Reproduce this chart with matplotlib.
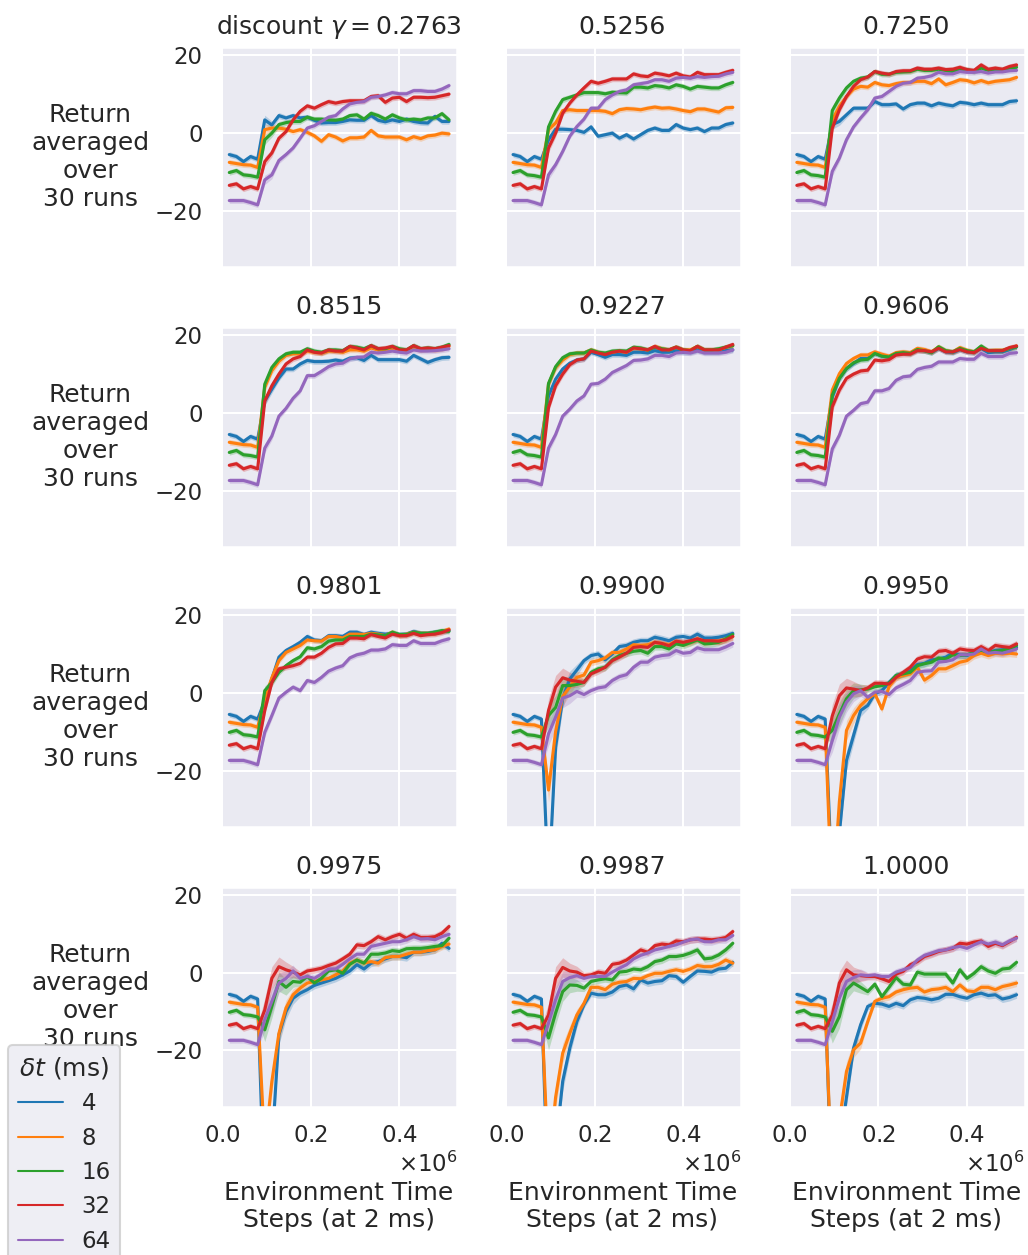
import numpy as np
import matplotlib
matplotlib.use("Agg")
import matplotlib.pyplot as plt
import seaborn as sns

# ---------------- data ----------------
steps = np.arange(1, 33) * 16000          # environment time steps
dts = ["4", "8", "16", "32", "64"]
gammas = ["0.2763", "0.5256", "0.7250", "0.8515", "0.9227", "0.9606",
          "0.9801", "0.9900", "0.9950", "0.9975", "0.9987", "1.0000"]
colors = ["#1f77b4", "#ff7f0e", "#2ca02c", "#d62728", "#9467bd"]

# first five evaluation points (identical initial policy for all gammas)
pre_4 = [-5.6, -6.1, -7.4, -6.1, -6.8]
pre_8 = [-7.6, -7.9, -8.2, -8.3, -8.9]
pre_16 = [-10.2, -9.7, -10.8, -11.0, -11.4]
pre_32 = [-13.5, -13.1, -14.4, -13.8, -14.4]
pre_64 = [-17.4, -17.4, -17.4, -17.9, -18.5]

# remaining 27 points, per gamma, order dt = 4, 8, 16, 32, 64
g_2763 = [
    [3.3, 2.0, 4.4, 3.8, 4.4, 3.8, 4.0, 3.2, 2.5, 2.6, 2.6, 2.9, 3.3, 3.2, 3.2, 4.4, 3.2, 2.8, 3.3, 2.9, 3.5, 2.9, 2.6, 2.5, 4.2, 2.9, 2.9],
    [0.8, 1.2, 1.2, 0.9, 0.3, 0.8, 0.1, -0.8, -2.2, -0.5, -1.1, -2.1, -1.3, -1.3, -1.1, 0.6, -0.8, -1.1, -1.1, -1.1, -1.8, -1.0, -1.5, -0.8, -0.6, -0.1, -0.3],
    [-1.8, -0.1, 2.1, 2.6, 2.9, 2.9, 4.0, 3.5, 3.5, 3.3, 3.2, 3.5, 4.4, 4.6, 3.5, 5.0, 4.4, 3.5, 4.6, 3.8, 3.3, 3.5, 3.3, 3.8, 3.8, 4.9, 3.3],
    [-7.4, -5.2, -1.4, 0.3, 3.3, 5.5, 6.9, 6.3, 7.2, 8.0, 7.6, 8.0, 8.2, 8.2, 8.2, 9.3, 9.5, 7.8, 8.9, 9.1, 8.0, 9.1, 9.1, 9.0, 9.1, 9.5, 9.9],
    [-12.1, -10.8, -7.1, -5.6, -3.9, -1.4, 1.2, 1.8, 2.9, 4.0, 4.4, 6.1, 7.4, 7.8, 8.0, 9.1, 9.3, 9.7, 10.3, 10.0, 10.0, 10.8, 10.8, 10.6, 10.6, 11.2, 12.1],
]
g_5256 = [
    [-1.8, 0.9, 0.9, 0.8, 0.6, 0.1, 1.5, -0.9, -0.5, -0.1, -1.4, -0.5, -1.6, -0.5, 0.6, 1.2, 0.6, 0.6, 2.1, 1.2, 0.8, 1.2, 0.3, 1.2, 1.2, 2.1, 2.5],
    [0.8, 2.5, 5.7, 5.9, 5.7, 5.7, 5.7, 5.7, 5.5, 4.9, 5.9, 6.2, 6.1, 5.9, 6.3, 6.6, 6.3, 6.4, 6.1, 5.7, 5.4, 6.1, 6.1, 5.7, 5.3, 6.4, 6.5],
    [1.5, 5.5, 8.5, 9.1, 9.7, 10.3, 10.3, 10.3, 10.0, 10.4, 10.3, 10.2, 11.7, 11.7, 11.5, 12.1, 11.9, 11.5, 12.3, 11.9, 11.2, 11.9, 11.7, 11.5, 11.5, 12.3, 12.9],
    [-3.9, -0.1, 5.0, 7.6, 9.7, 11.5, 13.2, 12.7, 13.2, 13.8, 13.8, 13.8, 15.1, 14.6, 14.4, 15.3, 15.0, 14.6, 15.3, 14.6, 14.3, 15.5, 14.9, 14.9, 14.9, 15.5, 16.0],
    [-10.8, -8.2, -4.8, -0.9, 1.6, 3.5, 6.3, 6.3, 8.5, 9.7, 10.6, 11.0, 12.3, 12.6, 12.9, 13.6, 13.6, 13.2, 14.0, 14.2, 14.0, 14.4, 14.2, 14.4, 14.5, 15.1, 15.5],
]
g_7250 = [
    [2.1, 2.9, 4.6, 6.3, 6.3, 6.3, 8.0, 7.2, 7.2, 7.4, 6.1, 7.2, 7.6, 7.6, 6.9, 7.6, 7.2, 6.9, 7.8, 7.6, 7.2, 7.6, 7.2, 7.2, 7.2, 8.0, 8.2],
    [3.3, 6.8, 9.3, 11.2, 11.9, 11.7, 12.9, 12.3, 12.1, 12.6, 12.9, 12.9, 13.2, 13.2, 12.6, 13.8, 12.3, 12.9, 13.6, 13.4, 12.8, 13.4, 12.8, 13.2, 13.4, 13.6, 14.2],
    [5.7, 8.9, 11.5, 13.2, 14.0, 14.3, 15.7, 15.0, 15.0, 15.5, 15.6, 15.7, 16.3, 16.0, 16.0, 16.3, 16.0, 15.7, 16.3, 16.2, 15.7, 16.6, 16.0, 16.2, 16.2, 16.6, 16.8],
    [1.2, 5.9, 9.3, 11.9, 13.6, 14.3, 15.7, 15.3, 15.0, 15.7, 15.9, 15.9, 16.6, 16.3, 16.3, 16.6, 16.2, 16.3, 16.8, 16.2, 16.0, 17.4, 16.3, 16.6, 16.3, 17.0, 17.4],
    [-9.9, -6.5, -1.8, 1.5, 3.8, 5.9, 8.9, 9.3, 10.6, 11.9, 12.7, 12.9, 14.0, 14.2, 14.6, 15.5, 15.1, 15.1, 15.7, 15.5, 15.5, 15.7, 15.3, 15.6, 15.6, 15.9, 16.0],
]
g_8515 = [
    [3.0, 6.0, 8.9, 11.2, 11.2, 12.5, 13.4, 13.1, 13.1, 13.2, 13.5, 13.2, 14.0, 14.1, 13.4, 14.7, 13.6, 13.6, 13.6, 13.6, 13.2, 14.7, 13.8, 12.9, 13.6, 14.1, 14.2],
    [6.5, 10.8, 13.2, 14.7, 15.1, 15.1, 15.8, 15.5, 15.3, 15.8, 15.8, 15.5, 16.1, 16.1, 15.8, 16.6, 16.1, 16.1, 16.4, 16.1, 15.8, 16.6, 16.1, 16.4, 16.1, 16.4, 17.0],
    [7.3, 11.6, 13.8, 15.1, 15.5, 15.5, 16.4, 15.8, 15.5, 16.1, 16.1, 15.9, 17.0, 16.8, 16.4, 17.2, 16.4, 16.4, 17.0, 16.4, 16.1, 17.2, 16.4, 16.6, 16.4, 16.8, 17.5],
    [3.0, 6.9, 9.9, 12.5, 13.8, 14.4, 16.1, 15.5, 15.3, 16.1, 15.8, 15.8, 17.0, 16.6, 16.1, 17.2, 16.4, 16.6, 17.0, 16.1, 16.1, 17.2, 16.4, 16.6, 16.4, 16.8, 17.2],
    [-9.1, -6.0, -0.9, 1.1, 3.7, 5.6, 9.5, 9.5, 10.6, 11.8, 12.5, 12.7, 13.8, 14.2, 14.3, 15.5, 15.3, 15.5, 15.8, 15.5, 15.3, 16.1, 15.8, 15.8, 15.9, 16.1, 16.4],
]
g_9227 = [
    [4.3, 8.6, 11.2, 12.7, 13.5, 13.8, 15.5, 14.9, 14.2, 14.9, 14.9, 14.7, 15.5, 15.5, 15.3, 15.9, 15.5, 15.5, 15.9, 15.5, 15.5, 16.1, 15.5, 15.5, 15.5, 15.9, 16.1],
    [7.3, 11.6, 13.5, 14.9, 15.3, 15.3, 16.1, 15.5, 15.1, 15.5, 15.8, 15.5, 16.6, 16.4, 16.1, 17.0, 16.4, 16.1, 16.8, 16.1, 16.1, 17.0, 16.1, 16.1, 16.1, 16.8, 17.2],
    [7.5, 11.8, 14.1, 15.1, 15.3, 15.3, 16.1, 15.5, 15.3, 15.8, 15.9, 15.8, 16.8, 16.6, 16.1, 16.8, 16.4, 16.1, 16.8, 16.1, 15.9, 17.0, 16.1, 16.1, 16.4, 16.8, 17.2],
    [1.3, 6.9, 9.9, 12.3, 13.5, 13.8, 15.8, 15.3, 14.9, 15.5, 15.8, 15.5, 16.6, 16.4, 16.1, 17.0, 16.1, 16.1, 16.8, 16.1, 15.9, 17.0, 16.1, 16.1, 16.1, 16.8, 17.5],
    [-9.1, -5.6, -0.9, 0.9, 3.0, 4.3, 7.3, 7.5, 8.6, 10.3, 11.2, 12.1, 13.4, 13.5, 13.8, 14.7, 14.7, 14.4, 15.3, 15.5, 15.3, 15.8, 15.3, 15.3, 15.3, 15.5, 16.1],
]
g_9606 = [
    [4.0, 8.8, 11.3, 12.6, 13.9, 13.9, 15.2, 14.5, 14.3, 15.2, 15.4, 15.2, 16.1, 15.9, 15.4, 16.5, 15.6, 15.4, 16.2, 15.6, 15.4, 16.5, 15.4, 15.6, 15.6, 16.2, 16.9],
    [5.8, 10.0, 12.6, 13.9, 14.8, 14.8, 15.6, 15.0, 14.5, 15.4, 15.6, 15.4, 16.5, 16.2, 15.6, 16.9, 15.9, 15.6, 16.7, 16.0, 15.6, 16.9, 15.9, 16.0, 16.0, 16.5, 17.1],
    [4.5, 8.8, 11.3, 12.8, 13.5, 13.7, 15.2, 14.5, 14.3, 15.2, 15.4, 15.2, 16.2, 15.9, 15.4, 16.9, 15.9, 15.6, 16.5, 15.9, 15.6, 17.1, 15.9, 15.9, 15.9, 16.5, 16.9],
    [1.5, 5.8, 8.8, 9.9, 10.7, 10.9, 13.5, 13.3, 13.6, 14.8, 15.0, 15.0, 15.9, 15.9, 15.6, 16.5, 15.6, 15.6, 16.2, 15.6, 15.4, 16.5, 15.9, 15.9, 15.9, 16.7, 17.1],
    [-9.3, -5.8, -0.9, 0.6, 2.3, 2.7, 5.6, 5.6, 6.2, 8.3, 9.2, 9.4, 11.1, 11.6, 11.9, 13.0, 13.0, 13.0, 13.9, 13.7, 13.7, 15.2, 14.4, 14.4, 14.4, 15.2, 15.4],
]
g_9801 = [
    [-2.1, 3.5, 9.1, 10.8, 11.8, 12.9, 14.4, 13.5, 13.3, 14.6, 14.6, 14.4, 15.5, 15.5, 14.9, 15.5, 15.2, 15.0, 15.2, 14.9, 15.0, 15.7, 15.2, 15.2, 15.5, 15.7, 15.9],
    [-1.6, 3.8, 8.2, 10.3, 11.2, 12.1, 13.5, 13.3, 13.2, 14.4, 14.4, 14.0, 15.0, 15.0, 14.9, 15.2, 15.0, 14.6, 15.5, 14.6, 15.0, 15.5, 15.2, 15.2, 15.2, 15.7, 16.3],
    [0.5, 2.6, 5.2, 6.9, 8.2, 9.2, 11.5, 11.2, 11.8, 13.2, 13.5, 13.5, 14.4, 14.4, 14.4, 15.0, 14.8, 14.6, 15.5, 14.9, 14.9, 15.5, 15.2, 15.2, 15.5, 15.9, 15.7],
    [-4.6, 2.6, 6.1, 6.5, 6.9, 7.5, 9.1, 9.1, 10.1, 11.6, 12.5, 12.6, 14.0, 14.0, 13.8, 14.9, 14.4, 14.0, 15.0, 14.6, 14.6, 15.2, 14.6, 14.9, 15.0, 15.4, 16.1],
    [-10.2, -5.9, -1.4, 0.1, 1.4, 0.5, 3.1, 2.6, 3.9, 5.5, 6.3, 6.9, 8.9, 9.7, 10.1, 10.9, 10.9, 11.2, 12.3, 12.1, 12.1, 13.3, 12.6, 12.6, 12.6, 13.3, 13.8],
]
g_9900 = [
    [-50.0, -14.0, -1.5, 3.5, 5.8, 8.2, 9.5, 9.9, 8.4, 9.9, 11.8, 12.1, 12.9, 13.3, 13.3, 14.2, 13.8, 13.3, 14.2, 14.4, 14.0, 15.0, 14.0, 14.0, 14.2, 14.6, 15.2],
    [-25.0, -10.0, -1.0, 1.5, 3.9, 4.5, 7.8, 8.2, 8.9, 10.3, 10.3, 11.2, 12.3, 12.1, 12.3, 12.9, 12.6, 12.3, 13.2, 12.6, 12.9, 13.8, 12.9, 13.2, 13.2, 13.8, 14.4],
    [-5.9, -3.8, 1.8, 1.8, 2.1, 2.6, 5.2, 6.1, 6.5, 8.4, 9.5, 10.1, 10.6, 10.8, 10.1, 11.8, 11.8, 11.2, 12.5, 12.1, 12.8, 13.5, 12.5, 12.6, 12.9, 13.8, 14.9],
    [-4.6, 1.4, 3.8, 3.2, 2.9, 2.6, 4.8, 5.6, 6.5, 8.2, 9.1, 10.1, 11.6, 11.8, 11.6, 12.9, 12.6, 12.0, 13.2, 12.9, 13.3, 13.8, 13.3, 13.3, 13.2, 13.5, 14.4],
    [-10.6, -6.3, -1.4, -0.8, 0.3, -0.5, 0.5, 1.2, 1.5, 3.1, 4.1, 4.6, 6.5, 7.8, 7.8, 9.1, 9.5, 9.7, 10.8, 10.1, 10.3, 11.5, 11.0, 11.0, 11.0, 11.7, 12.6],
]
g_9950 = [
    [-50.0, -36.0, -17.4, -11.0, -4.6, -3.3, -0.3, 0.5, 2.6, 4.4, 4.8, 5.6, 7.2, 7.5, 8.4, 8.6, 9.1, 10.1, 9.7, 9.5, 10.3, 11.2, 10.3, 10.8, 11.0, 11.2, 11.6],
    [-55.0, -28.0, -9.7, -5.9, -3.3, -1.6, -0.3, -4.2, 1.5, 3.9, 4.4, 4.8, 6.5, 3.2, 4.4, 6.1, 6.1, 6.9, 7.8, 8.2, 9.5, 10.1, 9.5, 10.1, 9.9, 10.1, 9.9],
    [-9.7, -5.5, -1.6, 0.5, 0.7, 0.9, 1.5, 1.8, 2.4, 4.4, 4.8, 5.2, 6.9, 7.4, 7.8, 8.9, 8.6, 9.7, 9.5, 9.7, 10.3, 10.9, 10.3, 10.6, 10.8, 11.2, 12.1],
    [-6.0, -0.8, 1.2, 0.9, 0.5, 1.2, 2.4, 2.4, 2.2, 3.9, 5.2, 6.5, 8.6, 9.2, 9.1, 10.6, 10.8, 10.1, 11.2, 10.9, 10.8, 11.8, 10.8, 12.1, 11.8, 11.6, 12.5],
    [-12.3, -6.3, -2.5, -0.3, 0.5, -1.2, 0.1, 0.3, -0.5, 1.2, 2.1, 3.1, 5.2, 5.5, 5.6, 7.8, 8.0, 8.4, 9.7, 9.7, 9.9, 11.2, 10.1, 10.3, 10.1, 10.6, 11.2],
]
g_9975 = [
    [-60.0, -45.0, -16.0, -10.0, -6.6, -5.3, -4.4, -3.3, -2.7, -2.1, -1.5, -0.6, 0.4, 2.0, 0.9, 2.4, 2.8, 3.5, 4.1, 4.1, 3.8, 5.2, 5.2, 5.4, 5.8, 7.5, 6.2],
    [-45.0, -28.0, -15.6, -9.1, -5.7, -4.0, -2.7, -2.3, -1.9, -1.5, -0.6, 0.4, 2.4, 3.2, 2.4, 2.8, 2.4, 3.8, 4.1, 4.1, 4.7, 5.2, 5.2, 5.6, 5.8, 6.7, 7.3],
    [-14.7, -8.7, -2.3, -3.8, -2.3, -2.5, -1.0, -2.7, -1.5, 0.4, 0.7, -0.2, 2.1, 3.2, 2.4, 4.7, 4.7, 5.0, 5.6, 5.4, 6.1, 6.2, 6.2, 6.4, 6.7, 6.9, 8.8],
    [-9.6, -1.5, 1.5, 0.7, 0.1, -0.6, 0.4, 0.7, 1.1, 1.8, 2.4, 3.5, 4.7, 7.1, 6.9, 7.9, 9.2, 8.4, 9.2, 9.8, 8.8, 9.8, 9.0, 9.0, 9.2, 10.1, 11.8],
    [-12.1, -7.4, -2.7, -1.5, 0.4, -1.5, -1.0, -1.5, -0.4, 0.9, 0.9, 2.1, 3.5, 4.7, 4.7, 6.7, 7.1, 7.5, 7.9, 7.9, 8.4, 9.2, 8.6, 8.7, 8.4, 9.2, 9.8],
]
g_9987 = [
    [-60.0, -45.0, -27.9, -19.4, -12.6, -8.3, -5.3, -5.7, -5.7, -5.0, -3.6, -3.2, -4.2, -1.9, -2.7, -2.3, -2.1, -0.8, -1.0, -2.5, -1.0, 0.4, 0.3, 0.1, 0.9, 1.1, 2.6],
    [-50.0, -32.0, -20.7, -15.6, -10.9, -7.9, -3.8, -3.8, -4.4, -3.0, -2.5, -2.3, -1.5, -1.6, -0.8, -0.2, -0.2, 0.3, 0.7, 0.3, 0.9, 1.8, 1.5, 1.5, 2.1, 3.2, 2.4],
    [-16.8, -10.4, -4.9, -3.2, -3.3, -4.0, -2.3, -1.9, -1.6, -1.9, 0.1, 0.3, 0.9, 0.7, 1.5, 2.8, 3.2, 4.1, 4.1, 4.4, 5.0, 5.8, 3.5, 3.7, 4.5, 5.8, 7.5],
    [-10.9, -1.5, 1.3, 0.4, 0.1, -0.8, -0.6, 0.1, -0.2, 2.1, 2.4, 3.2, 4.5, 5.8, 5.2, 6.9, 7.3, 7.1, 8.1, 7.9, 8.4, 8.6, 8.6, 8.4, 8.6, 9.0, 10.5],
    [-13.0, -7.0, -2.3, -1.3, -0.8, -1.5, -1.0, -1.0, -1.0, 0.1, 1.1, 2.0, 3.5, 4.4, 5.0, 5.8, 6.2, 6.7, 7.1, 7.8, 8.4, 8.6, 7.9, 7.9, 8.4, 8.4, 9.5],
]
g_10000 = [
    [-60.0, -45.0, -32.0, -19.4, -13.4, -8.7, -7.9, -8.1, -8.7, -7.9, -8.5, -7.0, -6.4, -6.6, -7.0, -6.6, -5.6, -5.6, -6.2, -6.6, -5.7, -5.3, -5.9, -5.7, -6.8, -6.4, -5.7],
    [-55.0, -38.0, -25.4, -19.8, -18.1, -12.6, -7.4, -6.6, -6.2, -5.0, -4.4, -4.0, -3.8, -5.0, -4.4, -4.2, -3.8, -4.9, -3.2, -4.7, -4.9, -3.8, -3.8, -4.4, -3.6, -3.2, -2.7],
    [-15.1, -11.3, -4.4, -2.7, -3.8, -4.9, -3.0, -6.2, -3.8, -1.3, -3.0, -3.2, 0.1, -0.4, -0.4, -0.4, -0.4, -2.7, 0.7, -1.5, -0.2, 1.5, 0.4, -0.2, 0.9, 1.1, 2.6],
    [-10.9, -2.7, 0.7, -0.6, -0.8, -1.0, -1.0, -1.6, -2.3, -0.4, 0.3, 2.0, 2.8, 4.1, 4.7, 5.4, 5.8, 6.2, 7.5, 7.3, 7.8, 8.1, 6.7, 7.5, 6.9, 7.9, 9.0],
    [-12.6, -6.6, -2.3, -1.3, -0.6, -0.8, -0.6, -1.0, -1.0, 0.1, 0.7, 1.3, 3.2, 4.4, 5.0, 5.6, 5.8, 6.4, 6.7, 6.2, 7.1, 7.9, 7.3, 7.8, 7.1, 8.1, 8.8],
]

# half-width of the shaded confidence band (early-stable vs. high-gamma panels)
band_low = [0.7] * 5 + [1.2, 1.0, 0.8, 0.7] + [0.7] * 23
band_high = [0.7] * 5 + [3.0, 3.0, 2.5, 2.0, 1.5] + [0.9] * 22

pre_all = [pre_4, pre_8, pre_16, pre_32, pre_64]
post_all = [g_2763, g_5256, g_7250, g_8515, g_9227, g_9606,
            g_9801, g_9900, g_9950, g_9975, g_9987, g_10000]

# ---------------- plot ----------------
sns.set_theme(context="talk", style="darkgrid")
plt.rcParams["font.family"] = ["DejaVu Sans"]

fig, axes = plt.subplots(4, 3, figsize=(10.28, 12.55), dpi=100,
                         sharex=True, sharey=True)
fig.subplots_adjust(left=220 / 1028, right=1025 / 1028,
                    top=1 - 47 / 1255, bottom=1 - 1107 / 1255,
                    wspace=0.195, hspace=0.271)

for i, ax in enumerate(axes.flat):
    band = band_high if i >= 7 else band_low
    for k in range(5):
        y = np.array(pre_all[k] + post_all[i][k])
        hw = np.array(band)
        ax.fill_between(steps, y - hw, y + hw, color=colors[k], alpha=0.25, lw=0)
        ax.plot(steps, y, color=colors[k], lw=2.25, label=dts[k])
    if i == 0:
        ax.set_title(r"discount $\gamma = $" + gammas[i], fontsize=18, pad=9.5)
    else:
        ax.set_title(gammas[i], fontsize=18, pad=9.5)
    ax.set_ylim(-34.5, 22)
    ax.set_xlim(-5000, 531000)
    ax.set_yticks([-20, 0, 20])
    ax.set_xticks([0, 200000, 400000])
    ax.ticklabel_format(axis="x", style="sci", scilimits=(6, 6), useMathText=True)
    ax.tick_params(labelsize=16.5)

for r in range(4):
    ax = axes[r, 0]
    ax.set_ylabel("Return\naveraged\nover\n30 runs", rotation=0, fontsize=18,
                  ha="center", va="center", multialignment="center")
    ax.yaxis.set_label_coords(-0.546, 0.5)

for c in range(3):
    axes[3, c].set_xlabel("Environment Time\nSteps (at 2 ms)", fontsize=18,
                          labelpad=24)

handles, labels = axes[0, 0].get_legend_handles_labels()
leg = fig.legend(handles, labels, title=r"$\delta t$ (ms)", loc="upper left",
                 bbox_to_anchor=(-3 / 1028, 1 - 1034 / 1255), fontsize=16.5,
                 title_fontsize=18)
for line in leg.get_lines():
    line.set_linewidth(1.5)

fig.savefig("out.png", dpi=100)
